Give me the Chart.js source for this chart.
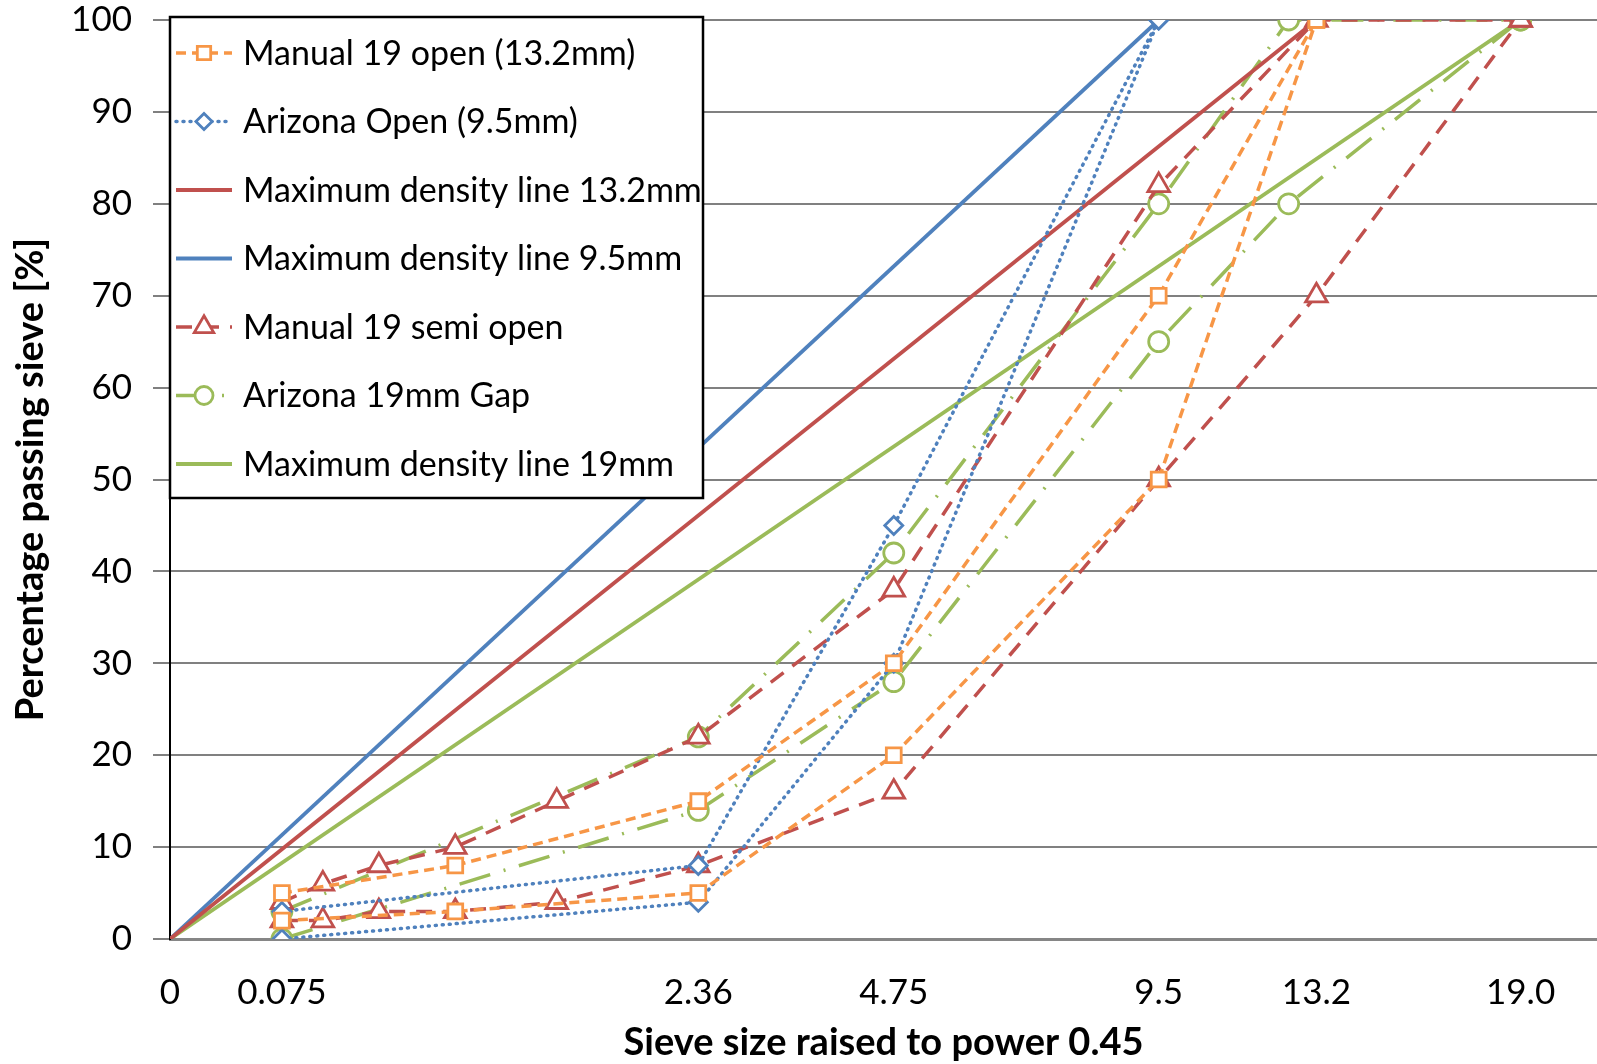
<!DOCTYPE html>
<html>
<head>
<meta charset="utf-8">
<script src="https://cdn.jsdelivr.net/npm/chart.js@4.4.1/dist/chart.umd.min.js"></script>
<style>
  html, body { margin: 0; padding: 0; background: #fff; overflow: hidden; }
  #wrap { width: 1597px; height: 1064px; position: relative; }
</style>
</head>
<body>
<div id="wrap"><canvas id="grading"></canvas></div>
<script>
// sieve sizes (mm) and percentage passing
const POWER = 0.45;

const manualOpenSieves = [0.075, 0.6, 2.36, 4.75, 9.5, 13.2];
const manualOpenUpper  = [5, 8, 15, 30, 70, 100];
const manualOpenLower  = [2, 3, 5, 20, 50, 100];

const arizonaOpenSieves = [0.075, 2.36, 4.75, 9.5];
const arizonaOpenUpper  = [3, 8, 45, 100];
const arizonaOpenLower  = [0, 4, 30, 100];

const semiOpenSieves = [0.075, 0.15, 0.3, 0.6, 1.18, 2.36, 4.75, 9.5, 13.2, 19.0];
const semiOpenUpper  = [4, 6, 8, 10, 15, 22, 38, 82, 100, 100];
const semiOpenLower  = [2, 2, 3, 3, 4, 8, 16, 50, 70, 100];

const arizonaGapSieves = [0.075, 2.36, 4.75, 9.5, 12.5, 19.0];
const arizonaGapUpper  = [3, 22, 42, 80, 100, 100];
const arizonaGapLower  = [0, 14, 28, 65, 80, 100];

// maximum density lines: 0 -> 100% at the max aggregate size
const maxDensitySizes = { red: 13.2, blue: 9.5, green: 19.0 };

const xTickSizes  = [0, 0.075, 2.36, 4.75, 9.5, 13.2, 19.0];
const xTickLabels = ['0', '0.075', '2.36', '4.75', '9.5', '13.2', '19.0'];

const ORANGE = '#F79646', BLUE = '#4F81BD', RED = '#C0504D', GREEN = '#9BBB59';
const FONT = 'Lato';

const pts = (sieves, vals) => sieves.map((s, i) => ({ x: Math.pow(s, POWER), y: vals[i] }));

function series(label, data, color, dash, cap, marker, radius, inLegend) {
  return {
    label, data, inLegend,
    borderColor: color, borderWidth: 3.5, borderDash: dash, borderCapStyle: cap,
    pointStyle: marker, pointRadius: radius, pointHoverRadius: radius,
    pointBorderColor: color, pointBackgroundColor: '#fff', pointBorderWidth: 2.8,
    showLine: true, fill: false, tension: 0
  };
}
function densityLine(label, size, color) {
  return {
    label, inLegend: true,
    data: pts([0, size], [0, 100]),
    borderColor: color, borderWidth: 3.8, borderDash: [],
    pointRadius: 0, pointHoverRadius: 0, showLine: true, fill: false
  };
}

const orangeDash = [10, 6], blueDot = [1, 6], redDash = [16, 11], greenDashDot = [32, 14, 2, 14];

const datasets = [
  series('Manual 19 open (13.2mm)', pts(manualOpenSieves, manualOpenUpper), ORANGE, orangeDash, 'butt', 'rect', 10.5, true),
  series('Manual 19 open (13.2mm)', pts(manualOpenSieves, manualOpenLower), ORANGE, orangeDash, 'butt', 'rect', 10.5, false),
  series('Arizona Open (9.5mm)', pts(arizonaOpenSieves, arizonaOpenUpper), BLUE, blueDot, 'round', 'rectRot', 9, true),
  series('Arizona Open (9.5mm)', pts(arizonaOpenSieves, arizonaOpenLower), BLUE, blueDot, 'round', 'rectRot', 9, false),
  densityLine('Maximum density line 13.2mm', maxDensitySizes.red, RED),
  densityLine('Maximum density line 9.5mm', maxDensitySizes.blue, BLUE),
  series('Manual 19 semi open', pts(semiOpenSieves, semiOpenUpper), RED, redDash, 'butt', 'triangle', 12.5, true),
  series('Manual 19 semi open', pts(semiOpenSieves, semiOpenLower), RED, redDash, 'butt', 'triangle', 12.5, false),
  series('Arizona 19mm Gap', pts(arizonaGapSieves, arizonaGapUpper), GREEN, greenDashDot, 'butt', 'circle', 10, true),
  series('Arizona 19mm Gap', pts(arizonaGapSieves, arizonaGapLower), GREEN, greenDashDot, 'butt', 'circle', 10, false),
  densityLine('Maximum density line 19mm', maxDensitySizes.green, GREEN)
];

// boxed legend inside the plot, top left
const boxLegend = {
  id: 'boxLegend',
  afterDraw(chart) {
    const { ctx, chartArea } = chart;
    const left = chartArea.left, top = chartArea.top - 3;
    const w = 533, h = 481, rowH = 68.5;
    ctx.save();
    ctx.fillStyle = '#fff';
    ctx.fillRect(left, top, w, h);
    ctx.strokeStyle = '#000';
    ctx.lineWidth = 2.5;
    ctx.strokeRect(left, top, w, h);
    ctx.font = '34px ' + FONT;
    ctx.textBaseline = 'middle';
    chart.data.datasets.filter(d => d.inLegend).forEach((ds, i) => {
      const y = top + 36 + i * rowH;
      ctx.save();
      ctx.strokeStyle = ds.borderColor;
      ctx.lineWidth = ds.borderWidth;
      ctx.lineCap = ds.borderCapStyle || 'butt';
      ctx.setLineDash(ds.borderDash || []);
      ctx.beginPath();
      ctx.moveTo(left + 6, y);
      ctx.lineTo(left + 62, y);
      ctx.stroke();
      ctx.restore();
      if (ds.pointRadius > 0) {
        ctx.save();
        ctx.setLineDash([]);
        ctx.strokeStyle = ds.pointBorderColor;
        ctx.fillStyle = ds.pointBackgroundColor;
        ctx.lineWidth = ds.pointBorderWidth;
        Chart.helpers.drawPoint(ctx, { pointStyle: ds.pointStyle, radius: ds.pointRadius * 0.9, rotation: 0, borderWidth: ds.pointBorderWidth }, left + 34, y);
        ctx.restore();
      }
      ctx.fillStyle = '#000';
      ctx.fillText(ds.label, left + 73, y + 1);
    });
    ctx.restore();
  }
};

new Chart(document.getElementById('grading'), {
  type: 'scatter',
  data: { datasets },
  options: {
    responsive: true,
    maintainAspectRatio: false,
    animation: false,
    layout: { autoPadding: false, padding: { top: 20, right: 0, bottom: 0, left: 0 } },
    plugins: { legend: { display: false }, tooltip: { enabled: false } },
    scales: {
      x: {
        type: 'linear', min: 0, max: 3.975,
        afterBuildTicks: s => { s.ticks = xTickSizes.map(v => ({ value: Math.pow(v, POWER) })); },
        afterFit: s => { s.height = 125; s.paddingLeft = 0; s.paddingRight = 0; },
        ticks: {
          autoSkip: false, maxRotation: 0, padding: 33, color: '#000',
          font: { family: FONT, size: 35 },
          callback: (v, i) => xTickLabels[i]
        },
        grid: { display: false, drawTicks: false },
        border: { color: '#868686', width: 3 },
        title: {
          display: true, text: 'Sieve size raised to power 0.45', color: '#000',
          font: { family: FONT, size: 38, weight: 'bold', lineHeight: 1.2 },
          padding: { top: 0, bottom: -2 }
        }
      },
      y: {
        min: 0, max: 100,
        afterFit: s => { s.width = 170; s.paddingTop = 0; s.paddingBottom = 0; },
        ticks: { stepSize: 10, padding: 21, color: '#000', font: { family: FONT, size: 35 } },
        grid: { color: '#808080', lineWidth: 2, tickLength: 17 },
        border: { color: '#000', width: 2 },
        title: {
          display: true, text: 'Percentage passing sieve [%]', color: '#000',
          font: { family: FONT, size: 38, weight: 'bold', lineHeight: 1.2 },
          padding: { top: 8, bottom: 0 }
        }
      }
    }
  },
  plugins: [boxLegend]
});
</script>
</body>
</html>
